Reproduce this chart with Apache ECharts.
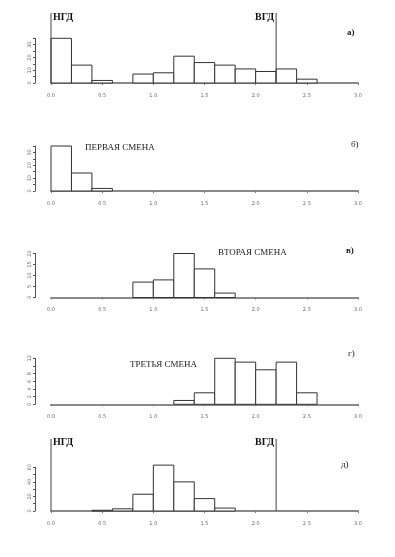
<!DOCTYPE html>
<html><head><meta charset="utf-8">
<script src="https://cdn.jsdelivr.net/npm/echarts@6/dist/echarts.min.js"></script>
<style>html,body{margin:0;padding:0;background:#fff}#c{width:395px;height:557px}</style>
</head><body><div id="c"></div>
<script>
const binStarts = [0.0,0.2,0.4,0.6,0.8,1.0,1.2,1.4,1.6,1.8,2.0,2.2,2.4,2.6,2.8];
const binWidth = 0.2;
const countsA = [35,14,2,0,7,8,21,16,14,11,9,11,3,0,0];
const countsB = [35,14,2,0,0,0,0,0,0,0,0,0,0,0,0];
const countsV = [0,0,0,0,7,8,20,13,2,0,0,0,0,0,0];
const countsG = [0,0,0,0,0,0,1,3,12,11,9,11,3,0,0];
const countsD = [0,0,1,3,23,63,40,17,4,0,0,0,0,0,0];
const xTicks = ['0.0','0.5','1.0','1.5','2.0','2.5','3.0'];
const refLines = [0, 2.2];
const refLabels = ['НГД', 'ВГД'];
const panelLetters = ['а)','б)','в)','г)','д)'];
const shiftLabels = ['ПЕРВАЯ СМЕНА','ВТОРАЯ СМЕНА','ТРЕТЬЯ СМЕНА'];

const serif = '"Liberation Serif","DejaVu Serif",serif';
const panels = [
  {counts: countsA, top: 38.3, height: 44.7, max: 35, interval: 5, hide: v => v % 10 !== 0, refTop: 54.8},
  {counts: countsB, top: 146, height: 45, max: 35, interval: 5, hide: v => v % 10 !== 0},
  {counts: countsV, top: 253.5, height: 44, max: 20, interval: 5, hide: v => false},
  {counts: countsG, top: 358.3, height: 46, max: 12, interval: 2, hide: v => v === 10},
  {counts: countsD, top: 467.3, height: 43.7, max: 60, interval: 10, hide: v => v % 20 !== 0, refTop: 99}
];

const grid = [], xAxis = [], yAxis = [], series = [];
panels.forEach((p, i) => {
  grid.push({left: 51, right: 37, top: p.top, height: p.height});
  xAxis.push({
    type: 'value', gridIndex: i, min: 0, max: 3, interval: 0.5,
    axisLine: {show: true, onZero: false, lineStyle: {color: '#8a8a8a', width: 2}},
    axisTick: {show: true, length: 2, lineStyle: {color: '#777'}},
    axisLabel: {fontSize: 5, color: '#666', margin: 10, fontFamily: 'DejaVu Sans',
      formatter: v => xTicks[Math.round(v / 0.5)]},
    splitLine: {show: false}
  });
  yAxis.push({
    type: 'value', gridIndex: i, min: 0, max: p.max, interval: p.interval, offset: 16,
    axisLine: {show: true, onZero: false, lineStyle: {color: '#555', width: 1}},
    axisTick: {show: true, length: 2, lineStyle: {color: '#555'}},
    axisLabel: {fontSize: 5, color: '#666', rotate: 90, margin: 3, fontFamily: 'DejaVu Sans',
      formatter: v => p.hide(v) ? '' : String(v)},
    splitLine: {show: false}
  });
  series.push({
    type: 'custom', xAxisIndex: i, yAxisIndex: i, clip: false,
    data: binStarts.map((b, k) => [b, p.counts[k]]).filter(d => d[1] > 0),
    renderItem: (params, api) => {
      const x0 = api.value(0), c = api.value(1);
      const a = api.coord([x0, c]);
      const b = api.coord([x0 + binWidth, 0]);
      return {type: 'rect', shape: {x: a[0], y: a[1], width: b[0] - a[0], height: b[1] - a[1]},
        style: {fill: '#fff', stroke: '#333', lineWidth: 1}};
    }
  });
  if (p.refTop) {
    series.push({
      type: 'custom', xAxisIndex: i, yAxisIndex: i, clip: false,
      data: refLines.map(x => [x, p.refTop]),
      renderItem: (params, api) => {
        const x = api.value(0), t = api.value(1);
        const a = api.coord([x, 0]);
        const b = api.coord([x, t]);
        const right = params.dataIndex === 0;
        return {type: 'group', children: [
          {type: 'line', shape: {x1: a[0], y1: a[1], x2: b[0], y2: b[1]}, style: {stroke: '#444', lineWidth: 1}},
          {type: 'text', x: b[0] + (right ? 2 : -2), y: b[1] - 1,
            style: {text: refLabels[params.dataIndex], fill: '#111', font: 'bold 10px ' + serif,
              textAlign: right ? 'left' : 'right', textVerticalAlign: 'top'}}
        ]};
      }
    });
  }
});

const letterPos = [[347, 28], [351, 140], [346, 246], [348, 349.5], [341, 460.5]];
const letterBold = ['bold', 'normal', 'bold', 'normal', 'normal'];
const shiftPos = [[85, 143.5], [218, 248.5], [130, 360.5]];
const title = [];
panelLetters.forEach((t, i) => title.push({text: t, left: letterPos[i][0], top: letterPos[i][1], padding: 0,
  textStyle: {fontSize: 9, fontWeight: letterBold[i], color: '#222', fontFamily: serif}}));
shiftLabels.forEach((t, i) => title.push({text: t, left: shiftPos[i][0], top: shiftPos[i][1], padding: 0,
  textStyle: {fontSize: 9, fontWeight: 'normal', color: '#222', fontFamily: serif}}));

const chart = echarts.init(document.getElementById('c'), null, {renderer: 'canvas'});
chart.setOption({animation: false, backgroundColor: '#fff', title, grid, xAxis, yAxis, series});
</script></body></html>
